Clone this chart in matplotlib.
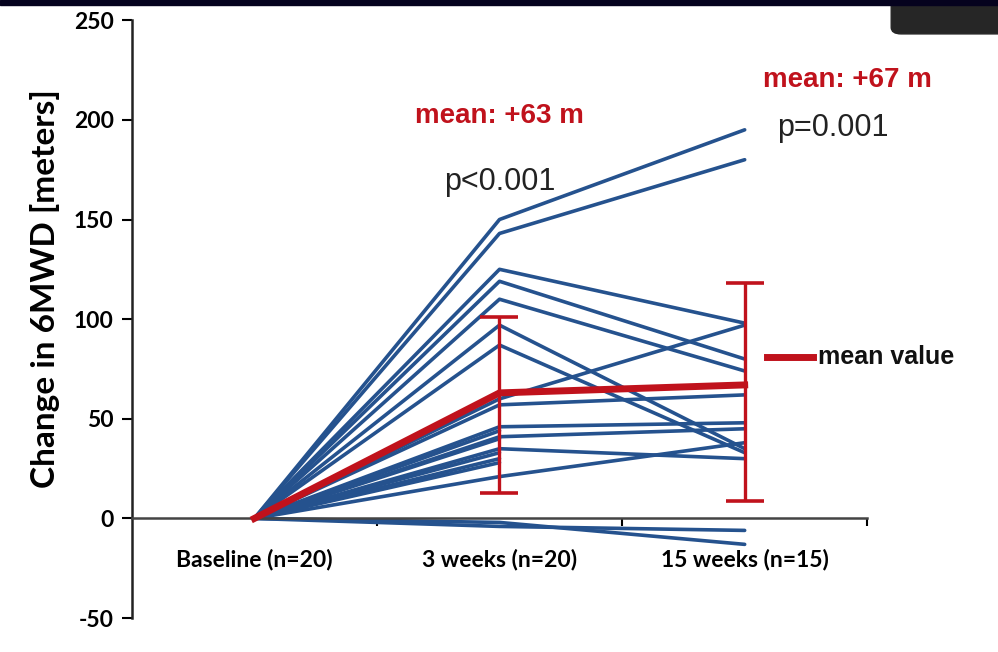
import matplotlib.pyplot as plt
from matplotlib.patches import FancyBboxPatch, Rectangle

plt.rcParams["axes.unicode_minus"] = False

# --- data ---
timepoints = ["Baseline (n=20)", "3 weeks (n=20)", "15 weeks (n=15)"]
# patients with all three visits: change at 3 weeks and at 15 weeks
week3_full = [150, 143, 125, 119, 110, 97, 87, 60, 57, 46, 41, 35, 21, -2, -4]
week15_full = [195, 180, 98, 80, 74, 35, 33, 97, 62, 48, 45, 30, 38, -13, -6]
# patients measured only up to 3 weeks
week3_only = [40, 33, 30, 44, 28]
mean_change = [0, 63, 67]
err_low = [0, 50, 58]
err_high = [0, 38, 51]

blue = "#25528e"
red = "#c0121c"
lab_font = "Lato"

fig = plt.figure(figsize=(9.98, 6.52), dpi=100)
ax = fig.add_axes([0.132, 0.052, 0.737, 0.917])

# spine position first: moving it resets the tick objects
ax.spines["top"].set_visible(False)
ax.spines["right"].set_visible(False)
ax.spines["bottom"].set_position(("data", 0))
ax.spines["bottom"].set_color("#444444")
ax.spines["bottom"].set_linewidth(1.8)
ax.spines["left"].set_linewidth(1.8)
ax.spines["left"].set_color("#222222")

x = [0, 1, 2]
for a, b in zip(week3_full, week15_full):
    ax.plot(x, [0, a, b], color=blue, lw=2.6, solid_capstyle="round", zorder=2)
for a in week3_only:
    ax.plot(x[:2], [0, a], color=blue, lw=2.6, solid_capstyle="round", zorder=2)

ax.plot(x, mean_change, color=red, lw=5, zorder=3)
ax.errorbar(x[1:], mean_change[1:], yerr=[err_low[1:], err_high[1:]], fmt="none",
            ecolor=red, elinewidth=2.4, capsize=14, capthick=2.6, zorder=4)

ax.set_xlim(-0.5, 2.5)
ax.set_ylim(-50, 250)
ax.tick_params(axis="x", which="major", length=0, pad=22)
ax.tick_params(axis="x", which="minor", direction="out", length=6, width=1.5)
ax.tick_params(axis="y", direction="out", length=7, width=1.5, pad=6)
ax.set_yticks(range(-50, 251, 50))
ax.set_yticklabels([str(v) for v in range(-50, 251, 50)], fontfamily=lab_font,
                   fontweight="bold", fontsize=16.5)
ax.set_xticks(x)
ax.set_xticklabels(timepoints, fontfamily=lab_font, fontweight="bold", fontsize=16.5)
ax.set_xticks([0.5, 1.5, 2.5], minor=True)

ax.set_ylabel("Change in 6MWD [meters]", fontfamily=lab_font, fontweight="bold",
              fontsize=24)
ax.yaxis.set_label_coords(-0.097, 0.552)

ax.text(1.0, 202, "mean: +63 m", color=red, fontsize=20, fontweight="bold",
        fontfamily="Liberation Sans", ha="center", va="center")
ax.text(1.0, 169, "p<0.001", color="#222222", fontsize=22,
        fontfamily="Liberation Sans", ha="center", va="center")
ax.text(2.42, 220, "mean: +67 m", color=red, fontsize=20, fontweight="bold",
        fontfamily="Liberation Sans", ha="center", va="center")
ax.text(2.36, 196, "p=0.001", color="#222222", fontsize=22,
        fontfamily="Liberation Sans", ha="center", va="center")

ax.plot([2.09, 2.28], [81, 81], color=red, lw=5, clip_on=False)
ax.text(2.3, 81, "mean value", color="#111111", fontsize=18, fontweight="bold",
        fontfamily="Liberation Sans", ha="left", va="center")

# slide frame bits: navy strip on top and dark tab at top right
fig.patches.append(Rectangle((0, 0.992), 1, 0.008, transform=fig.transFigure,
                             color="#05021e", zorder=10))
fig.patches.append(FancyBboxPatch((0.893, 0.948), 0.2, 0.06, transform=fig.transFigure,
                                  boxstyle="round,pad=0,rounding_size=0.01",
                                  color="#262626", zorder=9))

plt.savefig("out.png", dpi=100)
